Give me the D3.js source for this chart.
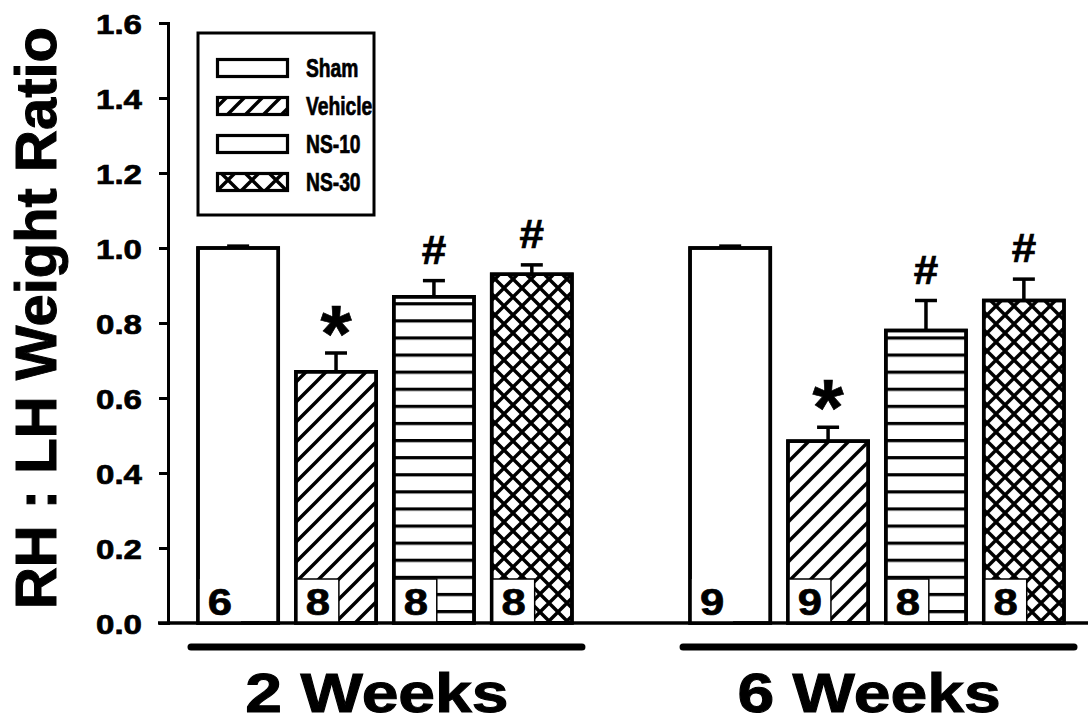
<!DOCTYPE html>
<html>
<head>
<meta charset="utf-8">
<script src="https://cdn.jsdelivr.net/npm/d3@7"></script>
<style>
  body { margin: 0; background: #fff; }
  text { font-family: "Liberation Sans", Arial, sans-serif; font-weight: bold; fill: #000; stroke: #000; stroke-width: 0.7px; }
</style>
</head>
<body>
<svg id="chart" width="1088" height="724"></svg>
<script>
// data
const groups = ["2 Weeks", "6 Weeks"];
const treatments = ["Sham", "Vehicle", "NS-10", "NS-30"];
const means = [[1.00, 0.67, 0.87, 0.93], [1.00, 0.485, 0.78, 0.86]];
const sems = [[0.005, 0.05, 0.043, 0.025], [0.005, 0.037, 0.08, 0.057]];
const nCounts = [[6, 8, 8, 8], [9, 9, 8, 8]];
const marks = [["", "*", "#", "#"], ["", "*", "#", "#"]];
const yTicks = [0, 0.2, 0.4, 0.6, 0.8, 1.0, 1.2, 1.4, 1.6];
const yTitle = "RH : LH Weight Ratio";

const sx = 1.18; // horizontal stretch of the scanned lettering

const svg = d3.select("#chart");

const y = d3.scaleLinear().domain([0, 1.6]).range([623, 23]);
const xGroup = d3.scaleBand().domain(groups).range([198, 1064]).paddingInner(0.24).paddingOuter(0);
const xBar = d3.scaleBand().domain(treatments).range([0, xGroup.bandwidth()]).paddingInner(0.18).paddingOuter(0);

// patterns
const defs = svg.append("defs");
function diagPattern(id, s, ox, oy) {
  const p = defs.append("pattern").attr("id", id).attr("patternUnits", "userSpaceOnUse")
    .attr("width", s).attr("height", s).attr("x", ox).attr("y", oy);
  p.append("path").attr("d", `M0,${s} L${s},0 M${-s/2},${s/2} L${s/2},${-s/2} M${s/2},${s*1.5} L${s*1.5},${s/2}`)
    .attr("stroke", "#000").attr("stroke-width", 3.4);
}
function horizPattern(id, s, ox, oy) {
  const p = defs.append("pattern").attr("id", id).attr("patternUnits", "userSpaceOnUse")
    .attr("width", 10).attr("height", s).attr("x", ox).attr("y", oy);
  p.append("rect").attr("x", 0).attr("y", 0).attr("width", 10).attr("height", 3.2).attr("fill", "#000");
}
function crossPattern(id, s, ox, oy) {
  const p = defs.append("pattern").attr("id", id).attr("patternUnits", "userSpaceOnUse")
    .attr("width", s).attr("height", s).attr("x", ox).attr("y", oy);
  p.append("path").attr("d", `M0,0 L${s},${s} M0,${s} L${s},0 M${-s/2},${s/2} L${s/2},${s*1.5} M${s/2},${-s/2} L${s*1.5},${s/2} M${-s/2},${s/2} L${s/2},${-s/2} M${s/2},${s*1.5} L${s*1.5},${s/2}`)
    .attr("stroke", "#000").attr("stroke-width", 3.4);
}
diagPattern("hatch", 20, 0, 0);
horizPattern("hlines", 17.1, 0, 353.5);
crossPattern("cross", 18, 0, 0);
const fills = ["#fff", "url(#hatch)", "url(#hlines)", "url(#cross)"];

// y axis
const yAxis = d3.axisLeft(y).tickValues(yTicks).tickSize(9).tickPadding(17).tickFormat(d3.format(".1f"));
const ga = svg.append("g").attr("transform", "translate(168,0)").call(yAxis);
ga.select(".domain").attr("stroke-width", 3);
ga.selectAll(".tick line").attr("stroke-width", 3);
ga.selectAll(".tick text")
  .attr("font-size", 28).attr("fill", "#000")
  .attr("x", null).attr("dy", null)
  .attr("transform", `translate(-26,10) scale(${sx},1)`);

// x baseline
svg.append("line").attr("x1", 158).attr("x2", 1088).attr("y1", y(0)).attr("y2", y(0))
  .attr("stroke", "#000").attr("stroke-width", 3.5);

// y title
svg.append("text").attr("transform", `translate(56,${(y(0) + y(1.6)) / 2 - 5}) rotate(-90)`)
  .attr("text-anchor", "middle").attr("font-size", 58).style("stroke-width", "1px").text(yTitle);

// bars
groups.forEach((g, gi) => {
  const gx = xGroup(g);
  const gg = svg.append("g").attr("transform", `translate(${gx},0)`);

  const rows = treatments.map((t, ti) => ({ t, ti, m: means[gi][ti], e: sems[gi][ti], n: nCounts[gi][ti], mark: marks[gi][ti] }));
  const cx = d => xBar(d.t) + xBar.bandwidth() / 2;

  gg.selectAll("rect.bar").data(rows).enter().append("rect")
    .attr("class", "bar")
    .attr("x", d => xBar(d.t)).attr("width", xBar.bandwidth())
    .attr("y", d => y(d.m)).attr("height", d => y(0) - y(d.m))
    .attr("fill", d => fills[d.ti]).attr("stroke", "#000").attr("stroke-width", 3.5);

  // error bars
  const eb = gg.selectAll("g.err").data(rows).enter().append("g").attr("class", "err");
  eb.append("line")
    .attr("x1", cx).attr("x2", cx)
    .attr("y1", d => y(d.m)).attr("y2", d => y(d.m + d.e))
    .attr("stroke", "#000").attr("stroke-width", 3.5);
  eb.append("line")
    .attr("x1", d => cx(d) - 11).attr("x2", d => cx(d) + 11)
    .attr("y1", d => y(d.m + d.e)).attr("y2", d => y(d.m + d.e))
    .attr("stroke", "#000").attr("stroke-width", 3.5);

  // significance marks (asterisk glyph sits ~0.31em above the baseline)
  gg.selectAll("text.mark").data(rows.filter(d => d.mark)).enter().append("text")
    .attr("class", "mark")
    .attr("text-anchor", "middle")
    .attr("font-size", d => d.mark === "*" ? 80 : 40)
    .attr("transform", d => {
      const base = y(d.m + d.e) - 17 + (d.mark === "*" ? 0.31 * 80 : 0);
      return `translate(${cx(d)},${base}) scale(${d.mark === "*" ? 1 : 1.1},1)`;
    })
    .text(d => d.mark);

  // n labels
  const nl = gg.selectAll("g.n").data(rows).enter().append("g").attr("class", "n");
  nl.append("rect")
    .attr("x", d => xBar(d.t)).attr("y", y(0) - 44).attr("width", 43).attr("height", 44)
    .attr("fill", "#fff").attr("stroke", d => d.ti === 0 ? "none" : "#000").attr("stroke-width", 1.5);
  nl.append("text")
    .attr("text-anchor", "middle").attr("font-size", 37)
    .attr("transform", d => `translate(${xBar(d.t) + 22},${y(0) - 8}) scale(${sx},1)`)
    .text(d => d.n);

  // group underline and label
  svg.append("line")
    .attr("x1", gx - 7).attr("x2", gx + xGroup.bandwidth() + 10)
    .attr("y1", 647).attr("y2", 647)
    .attr("stroke", "#000").attr("stroke-width", 7).attr("stroke-linecap", "round");
  svg.append("text")
    .attr("text-anchor", "middle").attr("font-size", 56).style("stroke-width", "1px")
    .attr("transform", `translate(${gx + xGroup.bandwidth() / 2 - 8},712) scale(${sx},1)`)
    .text(g);

  // redraw bar outlines over n boxes
  gg.selectAll("rect.outline").data(rows).enter().append("rect")
    .attr("x", d => xBar(d.t)).attr("width", xBar.bandwidth())
    .attr("y", d => y(d.m)).attr("height", d => y(0) - y(d.m))
    .attr("fill", "none").attr("stroke", "#000").attr("stroke-width", 3.5);
});

// legend
const lg = svg.append("g");
lg.append("rect").attr("x", 198).attr("y", 33).attr("width", 176).attr("height", 182)
  .attr("fill", "#fff").attr("stroke", "#000").attr("stroke-width", 3);
diagPattern("hatchL", 18, 216, 0);
crossPattern("crossL", 24, 216, 0);
const legendFills = ["#fff", "url(#hatchL)", "#fff", "url(#crossL)"];
treatments.forEach((t, i) => {
  const cy = 68 + i * 38;
  lg.append("rect").attr("x", 217.5).attr("y", cy - 8.5).attr("width", 70).attr("height", 17)
    .attr("fill", legendFills[i]).attr("stroke", "#000").attr("stroke-width", 3.2);
  lg.append("text").attr("transform", `translate(306,${cy + 9}) scale(0.77,1)`)
    .attr("font-size", 25).text(t);
});
</script>
</body>
</html>
